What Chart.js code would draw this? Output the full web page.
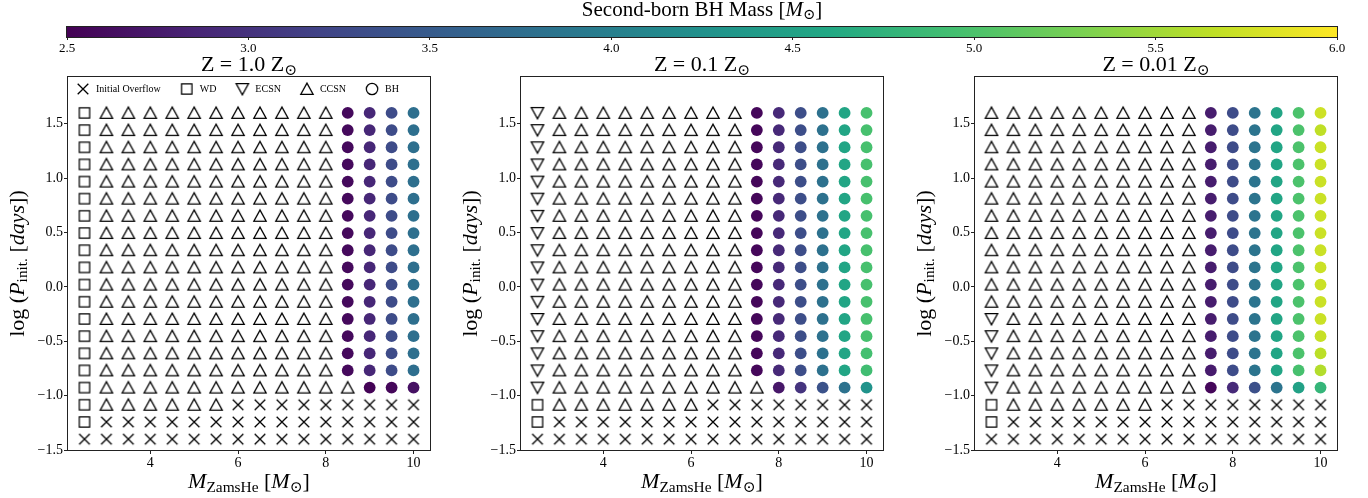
<!DOCTYPE html>
<html>
<head>
<meta charset="utf-8">
<script src="https://cdn.jsdelivr.net/npm/chart.js@4.4.1/dist/chart.umd.min.js"></script>
<style>
  html, body { margin: 0; padding: 0; background: #fff; }
  #wrap { position: relative; width: 1368px; height: 498px; overflow: hidden; }
  canvas { position: absolute; }
</style>
</head>
<body>
<div id="wrap">
  <canvas id="cbar" width="1368" height="56" style="left:0;top:0"></canvas>
  <canvas id="p1" width="440" height="448" style="left:0;top:50px"></canvas>
  <canvas id="p2" width="440" height="448" style="left:453px;top:50px"></canvas>
  <canvas id="p3" width="440" height="448" style="left:907px;top:50px"></canvas>
</div>
<script>
const SERIF = '"Liberation Serif", "DejaVu Serif", serif';

// grid axes: He-star ZAMS mass and initial log period (top row first)
const massZams = [2.5, 3.0, 3.5, 4.0, 4.5, 5.0, 5.5, 6.0, 6.5, 7.0, 7.5, 8.0, 8.5, 9.0, 9.5, 10.0];
const logPInit = [1.6, 1.442, 1.284, 1.126, 0.968, 0.811, 0.653, 0.495, 0.337, 0.179,
                  0.021, -0.137, -0.295, -0.453, -0.611, -0.768, -0.926, -1.084, -1.242, -1.4];

const xTicks = [4, 6, 8, 10];
const yTicks = [-1.5, -1.0, -0.5, 0.0, 0.5, 1.0, 1.5];
const cbTicks = [2.5, 3.0, 3.5, 4.0, 4.5, 5.0, 5.5, 6.0];

// X = initial overflow, S = WD, V = ECSN, A = CCSN, B = BH
const outcomesZ1 = [
  'SAAAAAAAAAAABBBB', 'SAAAAAAAAAAABBBB', 'SAAAAAAAAAAABBBB', 'SAAAAAAAAAAABBBB',
  'SAAAAAAAAAAABBBB', 'SAAAAAAAAAAABBBB', 'SAAAAAAAAAAABBBB', 'SAAAAAAAAAAABBBB',
  'SAAAAAAAAAAABBBB', 'SAAAAAAAAAAABBBB', 'SAAAAAAAAAAABBBB', 'SAAAAAAAAAAABBBB',
  'SAAAAAAAAAAABBBB', 'SAAAAAAAAAAABBBB', 'SAAAAAAAAAAABBBB', 'SAAAAAAAAAAABBBB',
  'SAAAAAAAAAAAABBB', 'SAAAAAAXXXXXXXXX', 'SXXXXXXXXXXXXXXX', 'XXXXXXXXXXXXXXXX'
];
const outcomesZ01 = [
  'VAAAAAAAAABBBBBB', 'VAAAAAAAAABBBBBB', 'VAAAAAAAAABBBBBB', 'VAAAAAAAAABBBBBB',
  'VAAAAAAAAABBBBBB', 'VAAAAAAAAABBBBBB', 'VAAAAAAAAABBBBBB', 'VAAAAAAAAABBBBBB',
  'VAAAAAAAAABBBBBB', 'VAAAAAAAAABBBBBB', 'VAAAAAAAAABBBBBB', 'VAAAAAAAAABBBBBB',
  'VAAAAAAAAABBBBBB', 'VAAAAAAAAABBBBBB', 'VAAAAAAAAABBBBBB', 'VAAAAAAAAABBBBBB',
  'VAAAAAAAAAABBBBB', 'SAAAAAAAXXXXXXXX', 'SXXXXXXXXXXXXXXX', 'XXXXXXXXXXXXXXXX'
];
const outcomesZ001 = [
  'AAAAAAAAAABBBBBB', 'AAAAAAAAAABBBBBB', 'AAAAAAAAAABBBBBB', 'AAAAAAAAAABBBBBB',
  'AAAAAAAAAABBBBBB', 'AAAAAAAAAABBBBBB', 'AAAAAAAAAABBBBBB', 'AAAAAAAAAABBBBBB',
  'AAAAAAAAAABBBBBB', 'AAAAAAAAAABBBBBB', 'AAAAAAAAAABBBBBB', 'AAAAAAAAAABBBBBB',
  'VAAAAAAAAABBBBBB', 'VAAAAAAAAABBBBBB', 'VAAAAAAAAABBBBBB', 'VAAAAAAAAABBBBBB',
  'VAAAAAAAAABBBBBB', 'SAAAAAAAXXXXXXXX', 'SXXXXXXXXXXXXXXX', 'XXXXXXXXXXXXXXXX'
];

// second-born BH mass for each B cell, row by row (top row first)
const massZ1 = [
  [2.58, 2.88, 3.30, 3.78], [2.58, 2.88, 3.30, 3.78], [2.58, 2.88, 3.30, 3.78], [2.58, 2.88, 3.30, 3.78],
  [2.58, 2.88, 3.30, 3.78], [2.58, 2.88, 3.30, 3.78], [2.58, 2.88, 3.30, 3.78], [2.58, 2.88, 3.30, 3.78],
  [2.58, 2.88, 3.30, 3.78], [2.58, 2.88, 3.30, 3.78], [2.58, 2.88, 3.30, 3.78], [2.58, 2.88, 3.30, 3.78],
  [2.58, 2.88, 3.30, 3.78], [2.58, 2.88, 3.30, 3.78], [2.58, 2.88, 3.30, 3.78], [2.58, 2.88, 3.30, 3.76],
  [2.52, 2.56, 2.66]
];
const massZ01 = [
  [2.56, 2.90, 3.33, 3.80, 4.55, 4.97], [2.56, 2.90, 3.33, 3.80, 4.55, 4.97], [2.56, 2.90, 3.33, 3.80, 4.55, 4.97],
  [2.56, 2.90, 3.33, 3.80, 4.55, 4.97], [2.56, 2.90, 3.33, 3.80, 4.55, 4.97], [2.56, 2.90, 3.33, 3.80, 4.55, 4.97],
  [2.56, 2.90, 3.33, 3.80, 4.55, 4.97], [2.56, 2.90, 3.33, 3.80, 4.55, 4.97], [2.56, 2.90, 3.33, 3.80, 4.55, 4.97],
  [2.56, 2.90, 3.33, 3.80, 4.55, 4.97], [2.56, 2.90, 3.33, 3.80, 4.55, 4.97], [2.56, 2.90, 3.33, 3.80, 4.55, 4.97],
  [2.56, 2.90, 3.33, 3.80, 4.55, 4.97], [2.56, 2.90, 3.33, 3.80, 4.55, 4.97], [2.56, 2.90, 3.33, 3.80, 4.55, 4.95],
  [2.56, 2.90, 3.33, 3.80, 4.55, 4.92],
  [2.72, 3.02, 3.38, 3.82, 4.28]
];
const massZ001 = [
  [2.78, 3.30, 3.85, 4.55, 5.00, 5.74], [2.78, 3.30, 3.85, 4.55, 5.00, 5.66], [2.78, 3.30, 3.85, 4.55, 5.00, 5.72],
  [2.78, 3.30, 3.85, 4.55, 5.00, 5.72], [2.78, 3.30, 3.85, 4.55, 5.00, 5.72], [2.78, 3.30, 3.85, 4.55, 5.00, 5.72],
  [2.78, 3.30, 3.85, 4.55, 5.00, 5.72], [2.78, 3.30, 3.85, 4.55, 5.00, 5.72], [2.78, 3.30, 3.85, 4.55, 5.00, 5.72],
  [2.78, 3.30, 3.85, 4.55, 5.00, 5.72], [2.78, 3.30, 3.85, 4.55, 5.00, 5.72], [2.78, 3.30, 3.85, 4.55, 5.00, 5.72],
  [2.78, 3.30, 3.85, 4.55, 5.00, 5.72], [2.78, 3.30, 3.85, 4.55, 5.00, 5.70], [2.78, 3.30, 3.85, 4.55, 5.00, 5.64],
  [2.76, 3.30, 3.85, 4.55, 4.97, 5.60],
  [2.56, 2.92, 3.36, 3.85, 4.50, 4.80]
];

const kinds = [
  {code: 'X', label: 'Initial Overflow'},
  {code: 'S', label: 'WD'},
  {code: 'V', label: 'ECSN'},
  {code: 'A', label: 'CCSN'},
  {code: 'B', label: 'BH'}
];

const VIRIDIS = ['#440154', '#482475', '#414487', '#355f8d', '#2a788e', '#21918c',
                 '#22a884', '#44bf70', '#7ad151', '#bddf26', '#fde725'];

function hexRgb(h) {
  return [1, 3, 5].map(i => parseInt(h.substr(i, 2), 16));
}

function viridis(m) {
  const lo = cbTicks[0], hi = cbTicks[cbTicks.length - 1];
  const t = Math.min(1, Math.max(0, (m - lo) / (hi - lo)));
  const f = t * (VIRIDIS.length - 1);
  const i = Math.min(Math.floor(f), VIRIDIS.length - 2);
  const u = f - i;
  const a = hexRgb(VIRIDIS[i]), b = hexRgb(VIRIDIS[i + 1]);
  const c = a.map((v, k) => Math.round(v + (b[k] - v) * u));
  return `rgb(${c[0]},${c[1]},${c[2]})`;
}

// hollow matplotlib-like markers
function markerCanvas(draw, lw) {
  const c = document.createElement('canvas');
  c.width = 16; c.height = 16;
  const g = c.getContext('2d');
  g.strokeStyle = '#000';
  g.lineWidth = lw || 1.25;
  g.lineJoin = 'miter';
  g.beginPath();
  draw(g);
  g.stroke();
  return c;
}
const markers = {
  X: markerCanvas(g => { g.moveTo(2.7, 2.7); g.lineTo(13.3, 13.3); g.moveTo(13.3, 2.7); g.lineTo(2.7, 13.3); }, 1.3),
  S: markerCanvas(g => g.rect(2.8, 2.8, 10.4, 10.4)),
  V: markerCanvas(g => { g.moveTo(8, 13.9); g.lineTo(1.8, 2.6); g.lineTo(14.2, 2.6); g.closePath(); }),
  A: markerCanvas(g => { g.moveTo(8, 2.1); g.lineTo(1.8, 13.4); g.lineTo(14.2, 13.4); g.closePath(); }),
  B: markerCanvas(g => g.arc(8, 8, 5.7, 0, Math.PI * 2))
};

// rich text: parts with italic / subscript pieces
function drawRich(ctx, parts, x, y, size, vertical) {
  const fontOf = p => (p.i ? 'italic ' : '') + (p.sub ? size * 0.7 : size) + 'px ' + SERIF;
  ctx.save();
  ctx.translate(x, y);
  if (vertical) ctx.rotate(-Math.PI / 2);
  const widths = parts.map(p => { ctx.font = fontOf(p); return ctx.measureText(p.t).width; });
  let cx = -widths.reduce((s, w) => s + w, 0) / 2;
  ctx.fillStyle = '#000';
  ctx.textAlign = 'left';
  ctx.textBaseline = 'alphabetic';
  parts.forEach((p, k) => {
    ctx.font = fontOf(p);
    ctx.fillText(p.t, cx, p.sub ? size * 0.16 : 0);
    cx += widths[k];
  });
  ctx.restore();
}

const xLabel = [{t: 'M', i: 1}, {t: 'ZamsHe', sub: 1}, {t: ' ['}, {t: 'M', i: 1}, {t: '\u2299', sub: 1}, {t: ']'}];
const yLabel = [{t: 'log ('}, {t: 'P', i: 1}, {t: 'init.', sub: 1}, {t: ' ['}, {t: 'days', i: 1}, {t: '])'}];
const cbLabel = [{t: 'Second-born BH Mass ['}, {t: 'M', i: 1}, {t: '\u2299', sub: 1}, {t: ']'}];

const decorPlugin = {
  id: 'decor',
  afterDraw(chart, args, opts) {
    const ctx = chart.ctx, a = chart.chartArea;
    ctx.save();
    ctx.strokeStyle = '#222';
    ctx.lineWidth = 1;
    ctx.strokeRect(Math.round(a.left) - 0.5, Math.round(a.top) - 0.5,
                   Math.round(a.right - a.left) + 1, Math.round(a.bottom - a.top) + 1);
    ctx.restore();
    const cx = (a.left + a.right) / 2;
    if (opts.title) drawRich(ctx, opts.title, cx, a.top - opts.titleGap, opts.titleSize);
    if (opts.xLabel) drawRich(ctx, opts.xLabel, cx, a.bottom + 38, 22);
    if (opts.yLabel) drawRich(ctx, opts.yLabel, a.left - 44.5, (a.top + a.bottom) / 2, 22, true);
  }
};

const legendPlugin = {
  id: 'gridLegend',
  afterDatasetsDraw(chart, args, opts) {
    if (!opts.show) return;
    const ctx = chart.ctx, a = chart.chartArea;
    ctx.save();
    ctx.font = '10px ' + SERIF;
    ctx.fillStyle = '#000';
    ctx.textBaseline = 'middle';
    let x = a.left + 15;
    const y = a.top + 12;
    kinds.forEach(k => {
      ctx.drawImage(markers[k.code], x - 8, y - 8);
      ctx.fillText(k.label, x + 13, y);
      x += 13 + ctx.measureText(k.label).width + 26;
    });
    ctx.restore();
  }
};

const cbarFill = {
  id: 'cbarFill',
  beforeDatasetsDraw(chart) {
    const ctx = chart.ctx, a = chart.chartArea, sx = chart.scales.x;
    const x0 = sx.getPixelForValue(cbTicks[0]);
    const x1 = sx.getPixelForValue(cbTicks[cbTicks.length - 1]);
    const grad = ctx.createLinearGradient(x0, 0, x1, 0);
    VIRIDIS.forEach((c, i) => grad.addColorStop(i / (VIRIDIS.length - 1), c));
    ctx.save();
    ctx.fillStyle = grad;
    ctx.fillRect(a.left, a.top, a.right - a.left, a.bottom - a.top);
    ctx.restore();
  }
};

function buildDatasets(outcomes, masses) {
  const pts = {X: [], S: [], V: [], A: [], B: []};
  const bhMass = [];
  let bhRow = 0;
  outcomes.forEach((row, r) => {
    let j = 0;
    [...row].forEach((code, c) => {
      pts[code].push({x: massZams[c], y: logPInit[r]});
      if (code === 'B') bhMass.push(masses[bhRow][j++]);
    });
    if (row.includes('B')) bhRow++;
  });
  return kinds.map(k => {
    if (k.code === 'B') {
      const cols = bhMass.map(viridis);
      return {label: k.label, data: pts.B, pointStyle: 'circle', pointRadius: 5.9,
              pointBackgroundColor: cols, pointBorderColor: cols, pointBorderWidth: 0};
    }
    return {label: k.label, data: pts[k.code], pointStyle: markers[k.code], pointRadius: 7};
  });
}

const tickFont = {family: SERIF, size: 14};
const xPad = (massZams[massZams.length - 1] - massZams[0]) * 0.05;

function makePanel(id, z, outcomes, masses, showLegend) {
  new Chart(document.getElementById(id), {
    type: 'scatter',
    data: {datasets: buildDatasets(outcomes, masses)},
    options: {
      responsive: false,
      animation: false,
      events: [],
      layout: {padding: {top: 27, right: 10, left: 0, bottom: 0}},
      plugins: {
        legend: {display: false},
        tooltip: {enabled: false},
        decor: {title: [{t: 'Z = ' + z + ' Z'}, {t: '\u2299', sub: 1}], titleGap: 6, titleSize: 22,
                xLabel: xLabel, yLabel: yLabel},
        gridLegend: {show: showLegend}
      },
      scales: {
        x: {
          type: 'linear',
          min: massZams[0] - xPad,
          max: massZams[massZams.length - 1] + xPad,
          afterBuildTicks: s => { s.ticks = xTicks.map(v => ({value: v})); },
          afterFit: s => { s.height = 48; },
          border: {display: false},
          grid: {drawOnChartArea: false, drawTicks: true, tickLength: 4, color: '#222'},
          ticks: {font: tickFont, color: '#000', padding: 1, maxRotation: 0, callback: v => String(v)}
        },
        y: {
          type: 'linear',
          min: -1.5,
          max: 1.93,
          afterBuildTicks: s => { s.ticks = yTicks.map(v => ({value: v})); },
          afterFit: s => { s.width = 68; },
          border: {display: false},
          grid: {drawOnChartArea: false, drawTicks: true, tickLength: 4, color: '#222'},
          ticks: {font: tickFont, color: '#000', padding: 1, callback: v => v.toFixed(1).replace('-', '\u2212')}
        }
      }
    },
    plugins: [decorPlugin, legendPlugin]
  });
}

// colour bar
new Chart(document.getElementById('cbar'), {
  type: 'scatter',
  data: {datasets: []},
  options: {
    responsive: false,
    animation: false,
    events: [],
    layout: {padding: {top: 27, right: 31, left: 67, bottom: 0}},
    plugins: {
      legend: {display: false},
      tooltip: {enabled: false},
      decor: {title: cbLabel, titleGap: 11, titleSize: 21}
    },
    scales: {
      x: {
        type: 'linear',
        min: cbTicks[0],
        max: cbTicks[cbTicks.length - 1],
        afterBuildTicks: s => { s.ticks = cbTicks.map(v => ({value: v})); },
        afterFit: s => { s.height = 19; },
        border: {display: false},
        grid: {drawOnChartArea: false, drawTicks: true, tickLength: 3, color: '#222'},
        ticks: {font: {family: SERIF, size: 13}, color: '#000', padding: 1, maxRotation: 0,
                callback: v => v.toFixed(1)}
      },
      y: {display: false, min: 0, max: 1}
    }
  },
  plugins: [cbarFill, decorPlugin]
});

makePanel('p1', '1.0', outcomesZ1, massZ1, true);
makePanel('p2', '0.1', outcomesZ01, massZ01, false);
makePanel('p3', '0.01', outcomesZ001, massZ001, false);
</script>
</body>
</html>
